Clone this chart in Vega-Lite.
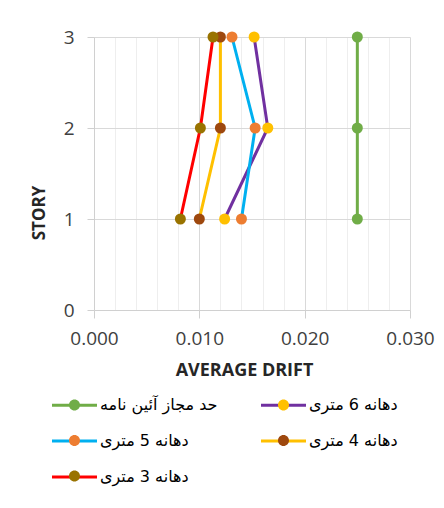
{
  "$schema": "https://vega.github.io/schema/vega-lite/v6.json",
  "width": 316,
  "height": 273,
  "autosize": {"type": "none"},
  "padding": {"left": 94, "top": 37, "right": 34, "bottom": 198},
  "background": "white",
  "config": {"view": {"stroke": null}, "font": "Open Sans"},
  "data": {
    "values": [
      {"series": "حد مجاز آئین نامه", "story": 1, "drift": 0.025},
      {"series": "حد مجاز آئین نامه", "story": 2, "drift": 0.025},
      {"series": "حد مجاز آئین نامه", "story": 3, "drift": 0.025},
      {"series": "دهانه 6 متری", "story": 1, "drift": 0.0124},
      {"series": "دهانه 6 متری", "story": 2, "drift": 0.0165},
      {"series": "دهانه 6 متری", "story": 3, "drift": 0.0152},
      {"series": "دهانه 5 متری", "story": 1, "drift": 0.0140},
      {"series": "دهانه 5 متری", "story": 2, "drift": 0.0153},
      {"series": "دهانه 5 متری", "story": 3, "drift": 0.0131},
      {"series": "دهانه 4 متری", "story": 1, "drift": 0.0100},
      {"series": "دهانه 4 متری", "story": 2, "drift": 0.0120},
      {"series": "دهانه 4 متری", "story": 3, "drift": 0.0120},
      {"series": "دهانه 3 متری", "story": 1, "drift": 0.0082},
      {"series": "دهانه 3 متری", "story": 2, "drift": 0.0101},
      {"series": "دهانه 3 متری", "story": 3, "drift": 0.0113}
    ]
  },
  "encoding": {
    "x": {
      "field": "drift",
      "type": "quantitative",
      "scale": {"domain": [0, 0.03], "nice": false},
      "axis": {
        "title": "AVERAGE DRIFT",
        "values": [0, 0.002, 0.004, 0.006, 0.008, 0.01, 0.012, 0.014, 0.016, 0.018, 0.02, 0.022, 0.024, 0.026, 0.028, 0.03],
        "format": ".3f",
        "labelExpr": "abs(datum.value*100 - round(datum.value*100)) < 0.001 ? datum.label : ''",
        "labelOverlap": false,
        "labelFlush": false,
        "labelFont": "Open Sans",
        "labelFontSize": 19,
        "labelColor": "#404040",
        "labelPadding": 11,
        "tickSize": 8,
        "tickColor": {"condition": {"test": "abs(datum.value*100 - round(datum.value*100)) < 0.001", "value": "#d0d0d0"}, "value": "transparent"},
        "gridColor": {"condition": {"test": "abs(datum.value*100 - round(datum.value*100)) < 0.001", "value": "#d9d9d9"}, "value": "#eeeeee"},
        "domainColor": "#d0d0d0",
        "titleFont": "Open Sans",
        "titleFontSize": 18,
        "titleFontWeight": "bold",
        "titleColor": "#262626",
        "titleX": 150,
        "titleY": 51
      }
    },
    "y": {
      "field": "story",
      "type": "quantitative",
      "scale": {"domain": [0, 3], "nice": false},
      "axis": {
        "title": "STORY",
        "values": [0, 1, 2, 3],
        "format": "d",
        "labelFont": "Open Sans",
        "labelFontSize": 19,
        "labelColor": "#404040",
        "labelPadding": 13,
        "tickSize": 7,
        "tickColor": "#d0d0d0",
        "domainColor": "#d0d0d0",
        "gridColor": "#d9d9d9",
        "titleFont": "Open Sans",
        "titleFontSize": 17,
        "titleFontWeight": "bold",
        "titleColor": "#262626",
        "titleX": -46,
        "titleY": 175.5
      }
    }
  },
  "layer": [
    {
      "mark": {"type": "line", "strokeWidth": 3},
      "encoding": {
        "order": {"field": "story", "type": "quantitative"},
        "stroke": {
          "field": "series",
          "type": "nominal",
          "scale": {
            "domain": ["حد مجاز آئین نامه", "دهانه 6 متری", "دهانه 5 متری", "دهانه 4 متری", "دهانه 3 متری"],
            "range": ["#70ad47", "#7030a0", "#00b0f0", "#ffc000", "#ff0000"]
          },
          "legend": {
            "title": null,
            "orient": "none",
            "direction": "horizontal",
            "columns": 2,
            "legendX": -31,
            "legendY": 356.5,
            "padding": 0,
            "symbolType": "M-2.25,0L2.25,0",
            "symbolSize": 400,
            "symbolStrokeWidth": 3,
            "labelFont": "DejaVu Sans",
            "labelFontSize": 16,
            "labelColor": "#000000",
            "labelOffset": 14,
            "columnPadding": 37,
            "rowPadding": 16,
            "zindex": 0
          }
        }
      }
    },
    {
      "mark": {"type": "circle", "size": 121, "opacity": 1},
      "encoding": {
        "fill": {
          "field": "series",
          "type": "nominal",
          "sort": ["حد مجاز آئین نامه", "دهانه 6 متری", "دهانه 5 متری", "دهانه 4 متری", "دهانه 3 متری"],
          "scale": {"range": ["#70ad47", "#ffc000", "#ed7d31", "#9e480e", "#997300"]},
          "legend": {
            "title": null,
            "orient": "none",
            "direction": "horizontal",
            "columns": 2,
            "legendX": -31,
            "legendY": 356.5,
            "padding": 0,
            "symbolType": "M-2.25,0L2.25,0M0.55,0C0.55,0.304,0.304,0.55,0,0.55C-0.304,0.55,-0.55,0.304,-0.55,0C-0.55,-0.304,-0.304,-0.55,0,-0.55C0.304,-0.55,0.55,-0.304,0.55,0Z",
            "symbolSize": 400,
            "symbolStrokeWidth": 3,
            "symbolStrokeColor": "transparent",
            "symbolOpacity": 1,
            "labelFont": "DejaVu Sans",
            "labelFontSize": 16,
            "labelColor": "transparent",
            "labelOffset": 14,
            "columnPadding": 37,
            "rowPadding": 12.5,
            "zindex": 1
          }
        }
      }
    }
  ]
}
